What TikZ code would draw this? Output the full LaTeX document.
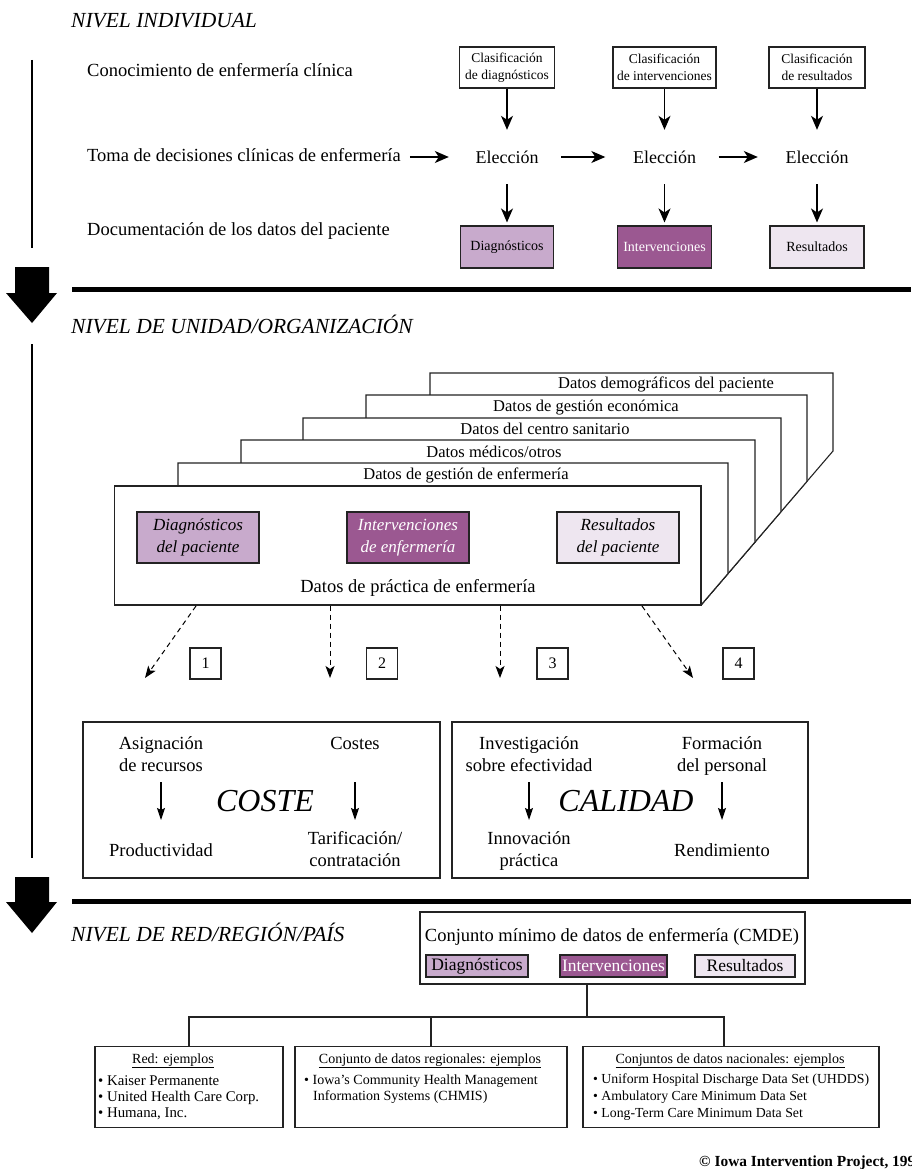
\documentclass[tikz,border=0pt]{standalone}
\usepackage{fontspec}
\setmainfont{Liberation Serif}
\usetikzlibrary{arrows.meta}
\definecolor{diagc}{RGB}{200,170,204}
\definecolor{intc}{RGB}{155,88,145}
\definecolor{resc}{RGB}{238,230,240}
\definecolor{linec}{RGB}{35,35,35}
\newcommand\fsz[2]{\fontsize{#1pt}{#2pt}\selectfont}
\begin{document}
\begin{tikzpicture}[x=1pt,y=-1pt,
  every node/.style={inner sep=0pt},
  lvltitle/.style={anchor=base west,font=\fsz{21.5}{25}\itshape},
  rowlabel/.style={anchor=base west,font=\fsz{18.5}{22}},
  clsbox/.style={draw=linec,line width=1.1pt,fill=white,align=center,font=\fsz{13.5}{16.5},minimum height=41pt},
  choice/.style={font=\fsz{18}{22},minimum width=108pt,minimum height=54pt},
  colbox/.style={draw=linec,line width=1.1pt,minimum height=42pt,font=\fsz{14}{17}},
  diagfill/.style={fill=diagc},
  intfill/.style={fill=intc,text=white},
  resfill/.style={fill=resc},
  bigarr/.style={line width=1.2pt,-{Stealth[length=14pt,width=12pt,inset=4pt]}},
  stack/.style={draw=linec,line width=1.1pt,fill=white},
  stacklbl/.style={anchor=base,font=\fsz{16.5}{20}},
  itbox/.style={draw=linec,line width=1.1pt,minimum width=122pt,minimum height=51pt,align=center,font=\fsz{17}{22}\itshape},
  dasharr/.style={line width=1pt,dash pattern=on 5pt off 4pt,-{Stealth[length=12pt,width=9pt,inset=3pt]}},
  numbox/.style={draw=linec,line width=1.1pt,minimum size=31pt,font=\fsz{16}{19}},
  bigbox/.style={draw=linec,line width=1.1pt,minimum height=156pt},
  cell/.style={font=\fsz{18.5}{22},align=center},
  thinarr/.style={line width=1.1pt,-{Stealth[length=12pt,width=8pt,inset=2pt]}},
  bigword/.style={anchor=base,font=\fsz{32}{36}\itshape},
  smallbox/.style={draw=linec,line width=1.1pt,minimum height=22pt,font=\fsz{17.5}{20}},
  exbox/.style={draw=linec,line width=1.1pt,minimum height=81pt},
  exhead/.style={anchor=base,font=\fsz{14}{18}},
  exitem/.style={anchor=base west,font=\fsz{14}{18}},
  rulebar/.style={line width=5pt},
  sideline/.style={line width=2.2pt},
  tree/.style={draw=linec,line width=1.1pt}
]
\useasboundingbox (0,0) rectangle (911,1169);
\fill[white] (0,0) rectangle (911,1169);

% ---------- side markers ----------
\draw[sideline] (32,60) -- (32,248);
\fill (15,267) -- (49,267) -- (49,293) -- (57,293) -- (32,323) -- (6,293) -- (15,293) -- cycle;
\draw[rulebar] (72,289) -- (911,289);
\draw[sideline] (32,344) -- (32,858);
\fill (15,877) -- (49,877) -- (49,902) -- (57,902) -- (32,933) -- (6,902) -- (15,902) -- cycle;
\draw[rulebar] (72,901) -- (911,901);

% ---------- NIVEL INDIVIDUAL ----------
\node[lvltitle] (t1) at (71,28) {NIVEL INDIVIDUAL};
\node[rowlabel] (r1) at (87,77) {Conocimiento de enfermería clínica};
\node[rowlabel] (r2) at (87,162) {Toma de decisiones clínicas de enfermería};
\node[rowlabel] (r3) at (87,235) {Documentación de los datos del paciente};

\node[clsbox,minimum width=95pt] (c1) at (507,67.5) {Clasificación\\de diagnósticos};
\node[clsbox,minimum width=103pt] (c2) at (664.5,67.5) {Clasificación\\de intervenciones};
\node[clsbox,minimum width=96pt] (c3) at (817,67.5) {Clasificación\\de resultados};

\node[choice] (e1) at (507,157) {Elección};
\node[choice] (e2) at (664.5,157) {Elección};
\node[choice] (e3) at (817,157) {Elección};

\node[colbox,diagfill,minimum width=93pt] (d1) at (507,247) {Diagnósticos};
\node[colbox,intfill,minimum width=94pt] (d2) at (664.5,247) {Intervenciones};
\node[colbox,resfill,minimum width=94pt] (d3) at (817,247) {Resultados};

\foreach \i in {1,2,3}{
  \draw[bigarr] (c\i.south) -- (e\i.north);
  \draw[bigarr,shorten >=3pt] (e\i.south) -- (d\i.north);
}
\draw[bigarr,shorten <=9pt,shorten >=4pt] (r2.east |- e1) -- (e1.west);
\draw[bigarr,shorten >=5pt] (e1.east) -- (e2.west);
\draw[bigarr,shorten >=5pt] (e2.east) -- (e3.west);

% ---------- NIVEL DE UNIDAD ----------
\node[lvltitle] (t2) at (71,333) {NIVEL DE UNIDAD/ORGANIZACIÓN};

\foreach \L/\T/\R in {430/373/833, 366/395/807, 303/418/781, 241/440/755, 178/463/728}{
  \pgfmathsetmacro\yd{605-(\R-701)*1.1667}
  \filldraw[stack] (\L,605) -- (\L,\T) -- (\R,\T) -- (\R,\yd) -- (701,605) -- cycle;
}
\node[stack,minimum width=586.5pt,minimum height=119pt] (practice) at (407.75,545.5) {};

\node[stacklbl] (s5) at (666,388) {Datos demográficos del paciente};
\node[stacklbl] (s4) at (586,411) {Datos de gestión económica};
\node[stacklbl] (s3) at (545,434) {Datos del centro sanitario};
\node[stacklbl] (s2) at (494,457) {Datos médicos/otros};
\node[stacklbl] (s1) at (466,479.5) {Datos de gestión de enfermería};

\node[itbox,diagfill] (p1) at (198,537.5) {Diagnósticos\\del paciente};
\node[itbox,intfill] (p2) at (408,537.5) {Intervenciones\\de enfermería};
\node[itbox,resfill] (p3) at (618,537.5) {Resultados\\del paciente};
\node[anchor=base,font=\fsz{18.5}{22}] (plbl) at (418,592) {Datos de práctica de enfermería};

\coordinate (a1s) at (196,606);
\coordinate (a4s) at (642,606);
\coordinate (a1) at (145,678);
\coordinate (a2) at (330,678);
\coordinate (a3) at (500,678);
\coordinate (a4) at (693,678);
\draw[dasharr] (a1s) -- (a1);
\draw[dasharr] (practice.south -| a2) -- (a2);
\draw[dasharr] (practice.south -| a3) -- (a3);
\draw[dasharr] (a4s) -- (a4);

\node[numbox] (n1) at (205.5,663.5) {1};
\node[numbox] (n2) at (382,663.5) {2};
\node[numbox] (n3) at (552.5,663.5) {3};
\node[numbox] (n4) at (738.5,663.5) {4};

\node[bigbox,minimum width=357pt] (coste) at (261.5,800) {};
\node[bigbox,minimum width=356pt] (calidad) at (630,800) {};

\node[cell] (asig) at (161,753.8) {Asignación\\de recursos};
\node[cell,anchor=base] (costes) at (355,749) {Costes};
\node[cell,anchor=base] (prod) at (161,856) {Productividad};
\node[cell] (tarif) at (355,849) {Tarificación/\\contratación};
\node[bigword] (wcost) at (265,811) {COSTE};

\node[cell] (inv) at (529,753.8) {Investigación\\sobre efectividad};
\node[cell] (form) at (722,755.6) {Formación\\del personal};
\node[cell] (innov) at (529,851) {Innovación\\práctica};
\node[cell,anchor=base] (rend) at (722,856) {Rendimiento};
\node[bigword] (wcal) at (626,811) {CALIDAD};

\coordinate (arTop) at (0,782);
\coordinate (arBot) at (0,820);
\draw[thinarr] (asig |- arTop) -- (prod |- arBot);
\draw[thinarr] (costes |- arTop) -- (tarif |- arBot);
\draw[thinarr] (inv |- arTop) -- (innov |- arBot);
\draw[thinarr] (form |- arTop) -- (rend |- arBot);

% ---------- NIVEL DE RED ----------
\node[lvltitle] (t3) at (71,941) {NIVEL DE RED/REGIÓN/PAÍS};

\node[draw=linec,line width=1.1pt,minimum width=385pt,minimum height=72pt] (cmde) at (612.5,948) {};
\node[anchor=base,font=\fsz{18.5}{22}] (cmdet) at (612,941) {Conjunto mínimo de datos de enfermería (CMDE)};
\node[smallbox,diagfill,minimum width=102pt] (m1) at (477,966) {Diagnósticos};
\node[smallbox,intfill,minimum width=107pt] (m2) at (613.5,966) {Intervenciones};
\node[smallbox,resfill,minimum width=100pt] (m3) at (745,966) {Resultados};

\node[exbox,minimum width=188pt] (bA) at (189,1087) {};
\node[exbox,minimum width=272pt] (bB) at (431,1087) {};
\node[exbox,minimum width=296pt] (bC) at (731,1087) {};

\coordinate (junc) at (587,1017);
\draw[tree] (cmde.south -| junc) -- (junc);
\draw[tree] (bA.north) |- (junc) -| ([xshift=-7pt]bC.north);
\draw[tree] (bB.north) -- (bB.north |- junc);

\node[exhead] (hA) at (173,1063) {\underline{Red: ejemplos}};
\node[exitem,font=\fsz{14.8}{18}] (iA1) at (98,1085) {\textbullet\ Kaiser Permanente};
\node[exitem,font=\fsz{14.8}{18}] (iA2) at (98,1101) {\textbullet\ United Health Care Corp.};
\node[exitem,font=\fsz{14.8}{18}] (iA3) at (98,1117) {\textbullet\ Humana, Inc.};

\node[exhead] (hB) at (430,1063) {\underline{Conjunto de datos regionales: ejemplos}};
\node[exitem] (iB1) at (304,1084) {\textbullet\ Iowa’s Community Health Management};
\node[exitem] (iB2) at (313,1100) {Information Systems (CHMIS)};

\node[exhead] (hC) at (730,1063) {\underline{Conjuntos de datos nacionales: ejemplos}};
\node[exitem,font=\fsz{13.8}{18}] (iC1) at (593,1083) {\textbullet\ Uniform Hospital Discharge Data Set (UHDDS)};
\node[exitem,font=\fsz{13.8}{18}] (iC2) at (593,1100) {\textbullet\ Ambulatory Care Minimum Data Set};
\node[exitem,font=\fsz{13.8}{18}] (iC3) at (593,1117) {\textbullet\ Long-Term Care Minimum Data Set};

\node[anchor=base west,font=\fsz{15.4}{20}\bfseries] (foot) at (699,1166) {© Iowa Intervention Project, 199};
\end{tikzpicture}
\end{document}
